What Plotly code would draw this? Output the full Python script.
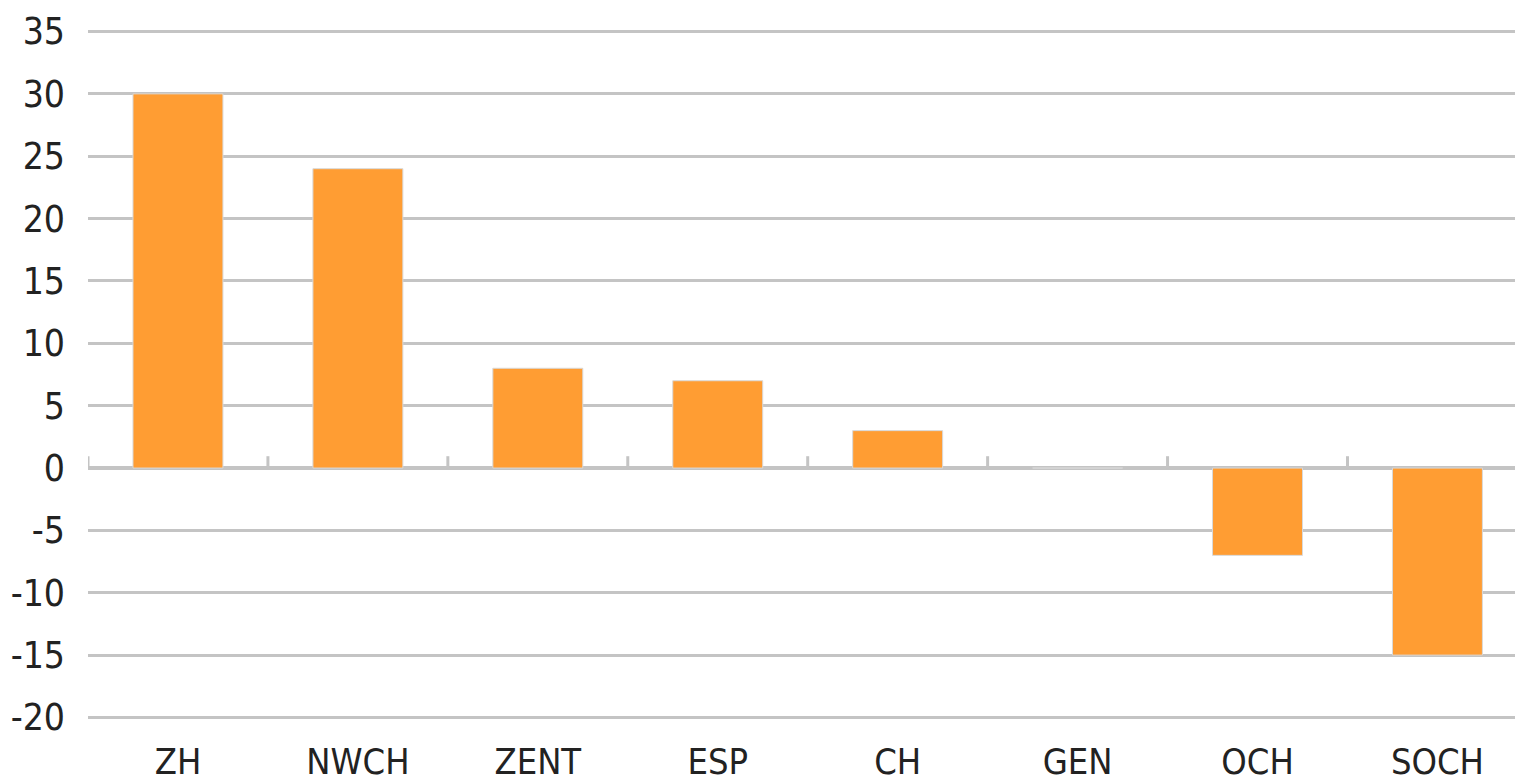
import plotly.graph_objects as go

categories = ["ZH", "NWCH", "ZENT", "ESP", "CH", "GEN", "OCH", "SOCH"]
values = [30, 24, 8, 7, 3, 0, -7, -15]
y_ticks = [-20, -15, -10, -5, 0, 5, 10, 15, 20, 25, 30, 35]
y_tick_labels = [str(v) for v in y_ticks]

FONT = "DejaVu Sans Condensed, Liberation Sans Narrow, sans-serif"
GRID = "#c4c4c4"

fig = go.Figure(
    go.Bar(
        x=categories,
        y=values,
        marker=dict(color="#FF9D33", line=dict(color="#d9d9d9", width=1)),
    )
)

# upward tick marks at category boundaries on the zero line
shapes = []
for i in range(len(categories) + 1):
    shapes.append(dict(
        type="line", xref="x", yref="y",
        x0=i - 0.5, x1=i - 0.5, y0=0, y1=0.95,
        line=dict(color=GRID, width=3), layer="above",
    ))

# the page body has an 8px default margin; the figure is offset accordingly
fig.update_layout(
    width=1523, height=774,
    margin=dict(l=80, r=0, t=22, b=63),
    plot_bgcolor="white", paper_bgcolor="white",
    bargap=0.5,
    showlegend=False,
    shapes=shapes,
    font=dict(family=FONT, color="#222222"),
    xaxis=dict(
        type="category",
        range=[-0.5, 7.52],
        automargin=False,
        showgrid=False, showline=False, ticks="",
        tickfont=dict(size=36, family=FONT, color="#222222"),
        ticklabelstandoff=18,
    ),
    yaxis=dict(
        range=[-20.12, 35.12],
        automargin=False,
        tickvals=y_ticks,
        ticktext=y_tick_labels,
        showgrid=True, gridcolor=GRID, gridwidth=3,
        zeroline=True, zerolinecolor=GRID, zerolinewidth=4,
        showline=False, ticks="",
        tickfont=dict(size=37, family=FONT, color="#222222"),
        ticklabelstandoff=22,
    ),
)

fig.write_html("out.html")
